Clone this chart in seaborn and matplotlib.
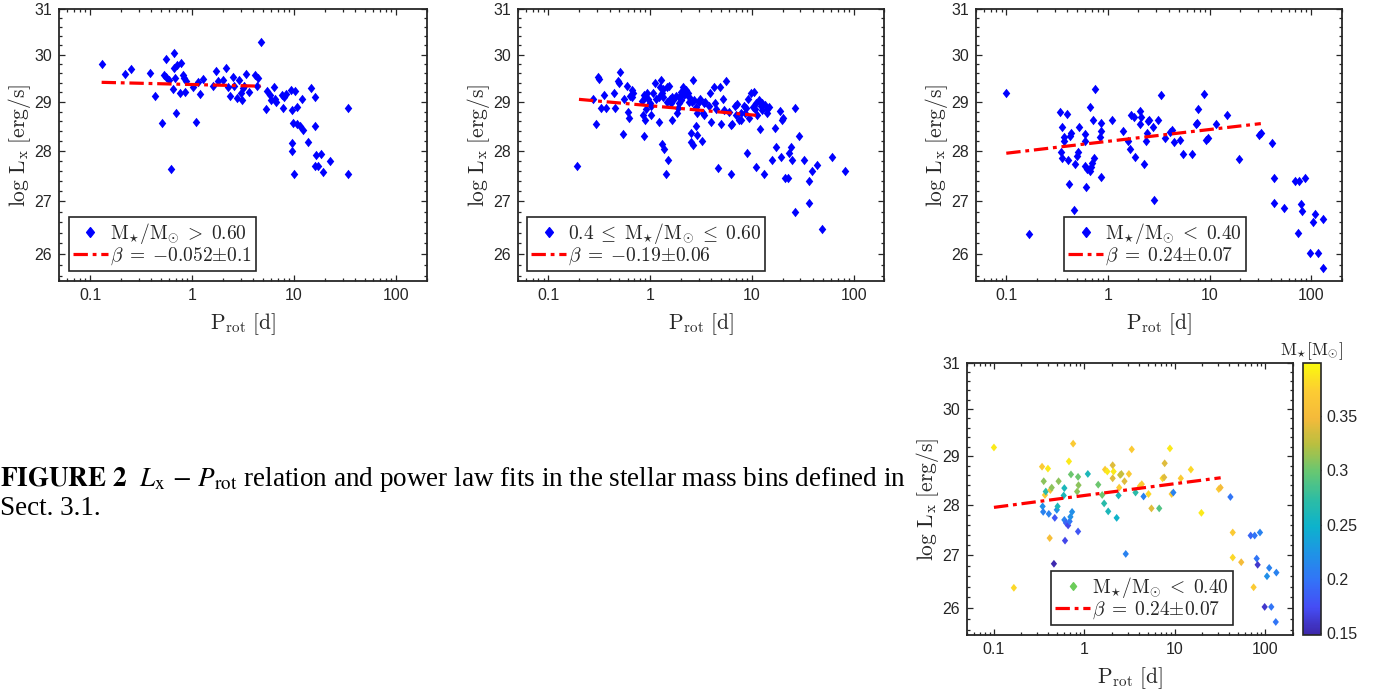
import numpy as np
import pandas as pd
import matplotlib
matplotlib.use('Agg')
import matplotlib.pyplot as plt
import seaborn as sns
from matplotlib.path import Path
from matplotlib.markers import MarkerStyle
from matplotlib.lines import Line2D
from matplotlib.colors import LinearSegmentedColormap, Normalize
from matplotlib.ticker import FixedLocator, FixedFormatter, NullFormatter, LogLocator
import matplotlib.cm as cm

# ---------------- data ----------------
# M*/Msun > 0.60
p_hi = [0.13, 0.22, 0.25, 0.39, 0.43, 0.51, 0.53, 0.555, 0.56, 0.60,
        0.62, 0.67, 0.645, 0.67, 0.68, 0.70, 0.72, 0.78, 0.76, 0.82,
        0.84, 0.86, 0.87, 1.03, 1.10, 1.14, 1.20, 1.27, 1.60, 1.72,
        1.78, 2.0, 2.16, 2.24, 2.37, 2.55, 2.6, 2.75, 2.92, 3.0,
        3.1, 3.13, 3.25, 3.4, 3.66, 4.1, 4.43, 4.7, 4.35, 5.42,
        5.3, 5.77, 5.95, 6.3, 6.45, 6.7, 7.7, 7.8, 8.0, 8.3,
        9.4, 9.5, 9.8, 9.6, 9.5, 10.0, 10.2, 10.6, 10.6, 11.5,
        12.0, 12.2, 13.7, 14.8, 16.0, 16.0, 16.3, 16.0, 17.2, 18.2,
        19.3, 22.7, 33.5, 34.0]
l_hi = [29.79, 29.59, 29.69, 29.60, 29.13, 28.57, 29.57, 29.90, 29.52, 29.46,
        27.63, 30.03, 29.26, 29.71, 29.50, 28.76, 29.78, 29.82, 29.18, 29.57,
        29.50, 29.20, 29.43, 29.31, 28.58, 29.41, 29.16, 29.48, 29.33, 29.64,
        29.43, 29.46, 29.71, 29.31, 29.12, 29.52, 29.33, 29.09, 29.45, 29.18,
        29.04, 29.28, 29.33, 29.59, 29.21, 29.57, 29.50, 30.28, 29.33, 29.23,
        28.86, 29.14, 29.04, 29.31, 29.07, 29.00, 29.14, 28.88, 29.10, 29.16,
        29.24, 28.83, 28.57, 28.15, 28.00, 27.53, 29.23, 28.90, 28.55, 28.50,
        29.05, 28.43, 28.18, 29.28, 29.10, 28.50, 27.92, 27.70, 27.70, 27.93,
        27.58, 27.80, 28.88, 27.53]

# 0.4 <= M*/Msun <= 0.60
p_mid = [0.19, 0.277, 0.292, 0.31, 0.313, 0.332, 0.353, 0.365, 0.443, 0.447,
         0.485, 0.507, 0.547, 0.554, 0.598, 0.61, 0.616, 0.64, 0.665, 0.68,
         0.828, 0.86, 0.87, 0.89, 0.90, 0.92, 0.94, 0.96, 0.99, 1.02,
         1.07, 1.11, 1.13, 1.21, 1.25, 1.28, 1.31, 1.33, 1.37, 1.42,
         1.45, 1.50, 1.53, 1.58, 1.65, 1.69, 1.78, 1.85, 1.87, 1.92,
         1.99, 2.0, 2.12, 2.16, 2.24, 2.33, 2.42, 2.51, 2.55, 2.62,
         2.66, 2.71, 2.8, 2.86, 2.9, 3.0, 3.1, 3.2, 3.3, 3.35,
         3.5, 3.76, 3.9, 4.0, 4.2, 4.44, 4.67, 4.9, 5.0, 5.15,
         5.33, 5.6, 5.96, 6.2, 6.3, 6.4, 6.8, 6.95, 7.2, 7.5,
         7.9, 8.4, 8.5, 8.7, 8.9, 9.2, 9.4, 9.9, 10.2, 10.4,
         10.8, 11.0, 11.2, 11.8, 12.1, 12.4, 12.7, 13.2, 13.4, 14.0,
         14.2, 14.8, 16.9, 17.2, 15.9, 18.9, 19.5, 20.4, 21.0, 22.6,
         23.1, 24.0, 24.9, 26.8, 26.8, 28.8, 32.5, 36.5, 36.5, 39.3,
         43.4, 48.7, 60.6, 81.8,
         0.50, 0.66, 1.03, 0.87, 1.35, 1.30, 1.21, 1.48, 1.65, 1.59,
         1.93, 2.27, 2.42, 2.60, 2.80, 3.37, 4.30, 7.80, 10.9, 12.5,
         19.8]
l_mid = [27.69, 29.05, 28.54, 29.52, 29.47, 28.88, 29.14, 28.88, 29.19, 28.88,
         29.43, 29.62, 28.34, 29.07, 29.33, 28.79, 28.66, 29.12, 29.25, 29.19,
         29.02, 28.72, 28.30, 29.10, 28.62, 28.86, 29.18, 29.07, 28.97, 28.72,
         29.18, 29.40, 29.07, 28.59, 29.31, 29.45, 28.14, 29.10, 28.03, 27.53,
         29.31, 27.82, 29.33, 29.07, 28.62, 29.04, 29.12, 28.76, 28.88, 29.10,
         29.21, 29.04, 29.31, 29.14, 29.25, 29.19, 29.00, 28.36, 28.17, 28.12,
         29.46, 29.04, 28.50, 28.31, 28.76, 29.00, 29.05, 28.19, 28.76, 28.72,
         29.00, 28.91, 29.18, 28.59, 29.31, 28.86, 27.66, 29.31, 28.54, 29.07,
         28.83, 29.43, 28.79, 28.52, 27.53, 28.55, 28.91, 28.72, 28.95, 28.62,
         28.63, 28.91, 28.76, 28.88, 27.95, 29.05, 28.66, 29.18, 28.90, 29.21,
         28.86, 27.68, 28.72, 29.04, 28.45, 28.91, 28.83, 27.53, 28.93, 28.76,
         28.86, 28.90, 28.47, 28.07, 27.82, 28.81, 27.87, 28.66, 27.45, 27.45,
         27.95, 28.07, 27.82, 28.88, 26.79, 28.29, 27.82, 27.39, 26.96, 27.60,
         27.71, 26.47, 27.87, 27.60,
         29.40, 29.10, 28.91, 29.14, 29.26, 29.18, 29.10, 29.00, 29.10, 28.97,
         28.97, 29.18, 29.10, 29.00, 28.90, 28.97, 28.98, 28.77, 28.97, 28.98,
         28.62]

# M*/Msun < 0.40 (with stellar mass for colour)
p_lo = [0.10, 0.166, 0.34, 0.355, 0.345, 0.35, 0.366, 0.374, 0.395, 0.404,
        0.413, 0.42, 0.435, 0.46, 0.47, 0.495, 0.505, 0.518, 0.59, 0.60,
        0.60, 0.61, 0.625, 0.66, 0.674, 0.686, 0.70, 0.71, 0.73, 0.75,
        0.83, 0.85, 0.86, 0.85, 1.09, 1.42, 1.57, 1.65, 1.69, 1.79,
        1.83, 2.05, 2.05, 2.10, 2.27, 2.38, 2.42, 2.48, 2.56, 2.77,
        2.86, 3.10, 3.33, 3.67, 4.10, 4.30, 4.50, 5.10, 5.50, 6.70,
        7.30, 7.60, 7.70, 8.80, 9.20, 9.60, 11.6, 15.0, 19.6, 30.5,
        31.9, 41.0, 43.5, 43.5, 54.0, 68.7, 76.0, 74.0, 80.0, 82.0,
        87.0, 104.0, 110.0, 98.0, 116.0, 130.0, 132.0]
l_lo = [29.18, 26.38, 28.78, 28.48, 27.97, 27.86, 28.20, 28.27, 28.74, 27.82,
        27.34, 28.30, 28.35, 26.84, 27.74, 27.90, 27.97, 28.48, 28.19, 28.34,
        27.70, 27.29, 27.64, 27.59, 28.89, 27.67, 27.76, 28.62, 27.86, 29.26,
        28.27, 28.57, 28.40, 27.47, 28.63, 28.41, 28.20, 28.03, 28.72, 28.68,
        27.87, 28.81, 28.54, 28.68, 27.74, 28.19, 28.35, 28.61, 28.63, 28.48,
        27.03, 28.63, 29.14, 28.25, 28.38, 28.42, 28.17, 28.22, 27.93, 27.93,
        28.54, 28.56, 28.85, 29.16, 28.22, 28.25, 28.54, 28.72, 27.84, 28.32,
        28.35, 28.16, 27.45, 26.96, 26.87, 27.39, 27.39, 26.39, 26.94, 26.82,
        27.45, 26.60, 26.76, 26.02, 26.02, 25.74, 26.67]
m_lo = [0.39, 0.38, 0.37, 0.31, 0.22, 0.21, 0.37, 0.27, 0.39, 0.21,
        0.355, 0.36, 0.31, 0.15, 0.18, 0.22, 0.26, 0.31, 0.26, 0.26,
        0.21, 0.17, 0.19, 0.17, 0.39, 0.20, 0.22, 0.30, 0.22, 0.37,
        0.31, 0.30, 0.31, 0.18, 0.26, 0.30, 0.30, 0.27, 0.37, 0.39,
        0.26, 0.34, 0.34, 0.39, 0.25, 0.26, 0.37, 0.33, 0.33, 0.34,
        0.21, 0.37, 0.37, 0.27, 0.37, 0.37, 0.21, 0.38, 0.34, 0.29,
        0.38, 0.34, 0.34, 0.39, 0.37, 0.21, 0.37, 0.38, 0.39, 0.37,
        0.35, 0.20, 0.37, 0.38, 0.35, 0.19, 0.20, 0.37, 0.20, 0.16,
        0.21, 0.22, 0.21, 0.16, 0.20, 0.20, 0.21]

# power-law fits: logLx = a + beta*log10(P) over [pmin, pmax]
fit_a = [29.364, 28.92, 28.19]
fit_beta = [-0.052, -0.19, 0.24]
fit_range = [(0.13, 4.7), (0.2, 11.0), (0.1, 32.0)]
leg_labels = [r'$\mathrm{M}_{\star}/\mathrm{M}_{\odot}\;>\;0.60$',
              r'$0.4\;\leq\;\mathrm{M}_{\star}/\mathrm{M}_{\odot}\;\leq\;0.60$',
              r'$\mathrm{M}_{\star}/\mathrm{M}_{\odot}\;<\;0.40$']
fit_labels = [r'$\beta\;=\;{-}0.052{\pm}0.1$', r'$\beta\;=\;{-}0.19{\pm}0.06$',
              r'$\beta\;=\;0.24{\pm}0.07$']
x_ticks = [0.1, 1, 10, 100]
x_ticklabels = ['0.1', '1', '10', '100']
y_ticks = [26, 27, 28, 29, 30, 31]
cb_ticks = [0.15, 0.2, 0.25, 0.3, 0.35]
mass_lim = (0.148, 0.399)

# ---------------- style ----------------
sns.set_style('white')
plt.rcParams['font.family'] = ['Liberation Sans', 'DejaVu Sans']
plt.rcParams['mathtext.fontset'] = 'cm'
DARK = (0.15, 0.15, 0.15)

parula = LinearSegmentedColormap.from_list('parula', [
    (0.00, (0.24, 0.15, 0.66)), (0.10, (0.27, 0.30, 0.96)),
    (0.20, (0.20, 0.45, 0.97)), (0.30, (0.12, 0.58, 0.90)),
    (0.40, (0.05, 0.70, 0.80)), (0.50, (0.18, 0.74, 0.64)),
    (0.60, (0.40, 0.78, 0.45)), (0.70, (0.72, 0.75, 0.25)),
    (0.80, (0.96, 0.73, 0.23)), (0.90, (0.99, 0.80, 0.20)),
    (1.00, (0.98, 0.98, 0.05))])

dmark = MarkerStyle(Path([(-0.8, 0), (0, 1), (0.8, 0), (0, -1), (-0.8, 0)],
                         [Path.MOVETO, Path.LINETO, Path.LINETO, Path.LINETO, Path.CLOSEPOLY]))
DASH = (0, (4.5, 1.5, 1.2, 1.5))
LW = 2.3

W, H = 1386, 692
fig = plt.figure(figsize=(W / 100, H / 100), dpi=100)
fig.patch.set_facecolor('white')


def px_axes(l, t, r, b):
    return fig.add_axes([l / W, 1 - b / H, (r - l) / W, (b - t) / H])


def style(ax):
    ax.set_xscale('log')
    ax.set_yscale('log')
    ax.set_xlim(0.05, 200)
    ax.set_ylim(25.5, 31)
    ax.xaxis.set_major_locator(FixedLocator(x_ticks))
    ax.xaxis.set_major_formatter(FixedFormatter(x_ticklabels))
    ax.xaxis.set_minor_locator(LogLocator(base=10, subs=np.arange(2, 10)))
    ax.xaxis.set_minor_formatter(NullFormatter())
    ax.yaxis.set_major_locator(FixedLocator(y_ticks))
    ax.yaxis.set_major_formatter(FixedFormatter([str(t) for t in y_ticks]))
    ax.yaxis.set_minor_locator(FixedLocator(np.arange(25.6, 31.0, 0.2)))
    ax.yaxis.set_minor_formatter(NullFormatter())
    ax.tick_params(which='both', direction='in', top=True, right=True,
                   bottom=True, left=True, colors=DARK, labelsize=11.5, width=0.9)
    ax.tick_params(which='major', length=4.5, pad=5)
    ax.tick_params(which='minor', length=2.3)
    for s in ax.spines.values():
        s.set_color(DARK)
        s.set_linewidth(1.3)
    ax.set_xlabel(r'$\mathrm{P_{rot}}\ [\mathrm{d}]$', fontsize=15.5, color=DARK, labelpad=6)
    ax.set_ylabel(r'$\log\,\mathrm{L_x}\ [\mathrm{erg/s}]$', fontsize=15.5, color=DARK, labelpad=1)
    ax.set_facecolor('white')


def add_fit(ax, i):
    px = np.geomspace(fit_range[i][0], fit_range[i][1], 60)
    py = fit_a[i] + fit_beta[i] * np.log10(px)
    sns.lineplot(x=px, y=py, ax=ax, color='red', lw=LW, linestyle=DASH, zorder=5, sort=False)


def add_legend(ax, lab, flab, mcolor, loc, anchor, msize):
    handles = [Line2D([], [], marker=dmark, color=mcolor, ls='none', markersize=msize),
               Line2D([], [], color='red', lw=LW, linestyle=DASH)]
    leg = ax.legend(handles, [lab, flab], loc=loc, bbox_to_anchor=anchor,
                    fontsize=14, frameon=True, fancybox=False, framealpha=1,
                    edgecolor=DARK, borderaxespad=0.5, handlelength=1.8,
                    handletextpad=0.1, borderpad=0.2, labelspacing=0.0)
    leg.get_frame().set_linewidth(1.2)


ax1 = px_axes(59.3, 9, 426.7, 281)
ax2 = px_axes(517.7, 9, 884.3, 281)
ax3 = px_axes(975.7, 9, 1341.7, 281)
ax4 = px_axes(966.7, 363.3, 1292.7, 635)
cax = px_axes(1302.7, 363.3, 1321, 635)

for i, (ax, px_, ly_) in enumerate([(ax1, p_hi, l_hi), (ax2, p_mid, l_mid), (ax3, p_lo, l_lo)]):
    style(ax)
    sns.scatterplot(x=px_, y=ly_, ax=ax, marker=dmark, s=46, color=(0, 0, 1),
                    linewidth=0, legend=False, zorder=3)
    add_fit(ax, i)
    style(ax)

add_legend(ax1, leg_labels[0], fit_labels[0], 'blue', 'lower left', (0, 0), 7)
add_legend(ax2, leg_labels[1], fit_labels[1], 'blue', 'lower left', (0, 0), 7)
add_legend(ax3, leg_labels[2], fit_labels[2], 'blue', 'lower center', (0.49, 0), 7)

# colour-coded panel
style(ax4)
norm = Normalize(*mass_lim)
df_lo = pd.DataFrame({'P': p_lo, 'L': l_lo, 'M': m_lo})
sns.scatterplot(data=df_lo, x='P', y='L', hue='M', palette=parula, hue_norm=norm,
                ax=ax4, marker=dmark, s=32, linewidth=0, legend=False, zorder=3)
add_fit(ax4, 2)
style(ax4)
add_legend(ax4, leg_labels[2], fit_labels[2], (0.42, 0.80, 0.35), 'lower center', (0.538, 0), 5.5)

sm = cm.ScalarMappable(norm=norm, cmap=parula)
cb = fig.colorbar(sm, cax=cax, ticks=cb_ticks)
cb.ax.set_yticklabels(['0.15', '0.2', '0.25', '0.3', '0.35'])
cb.ax.tick_params(direction='in', length=4, colors=DARK, labelsize=11.5, width=0.9, pad=4)
cb.outline.set_edgecolor(DARK)
cb.outline.set_linewidth(1.2)
cax.set_title(r'$\mathrm{M}_{\star}[\mathrm{M}_{\odot}]$', fontsize=12.5, color=DARK, pad=6)

# caption
fig.text(0.0, 1 - 486 / H,
         r'$\mathbf{FIGURE\ 2}$  $L_\mathrm{x}\,-\,P_\mathrm{rot}$ relation and power law fits in the stellar mass bins defined in',
         fontsize=19.5, family=['Liberation Serif', 'DejaVu Serif'], math_fontfamily='stix',
         ha='left', va='baseline', color='black')
fig.text(0.0, 1 - 515 / H, 'Sect. 3.1.', fontsize=19.5,
         family=['Liberation Serif', 'DejaVu Serif'], ha='left', va='baseline', color='black')

fig.savefig('out.png', dpi=100, facecolor='white')
